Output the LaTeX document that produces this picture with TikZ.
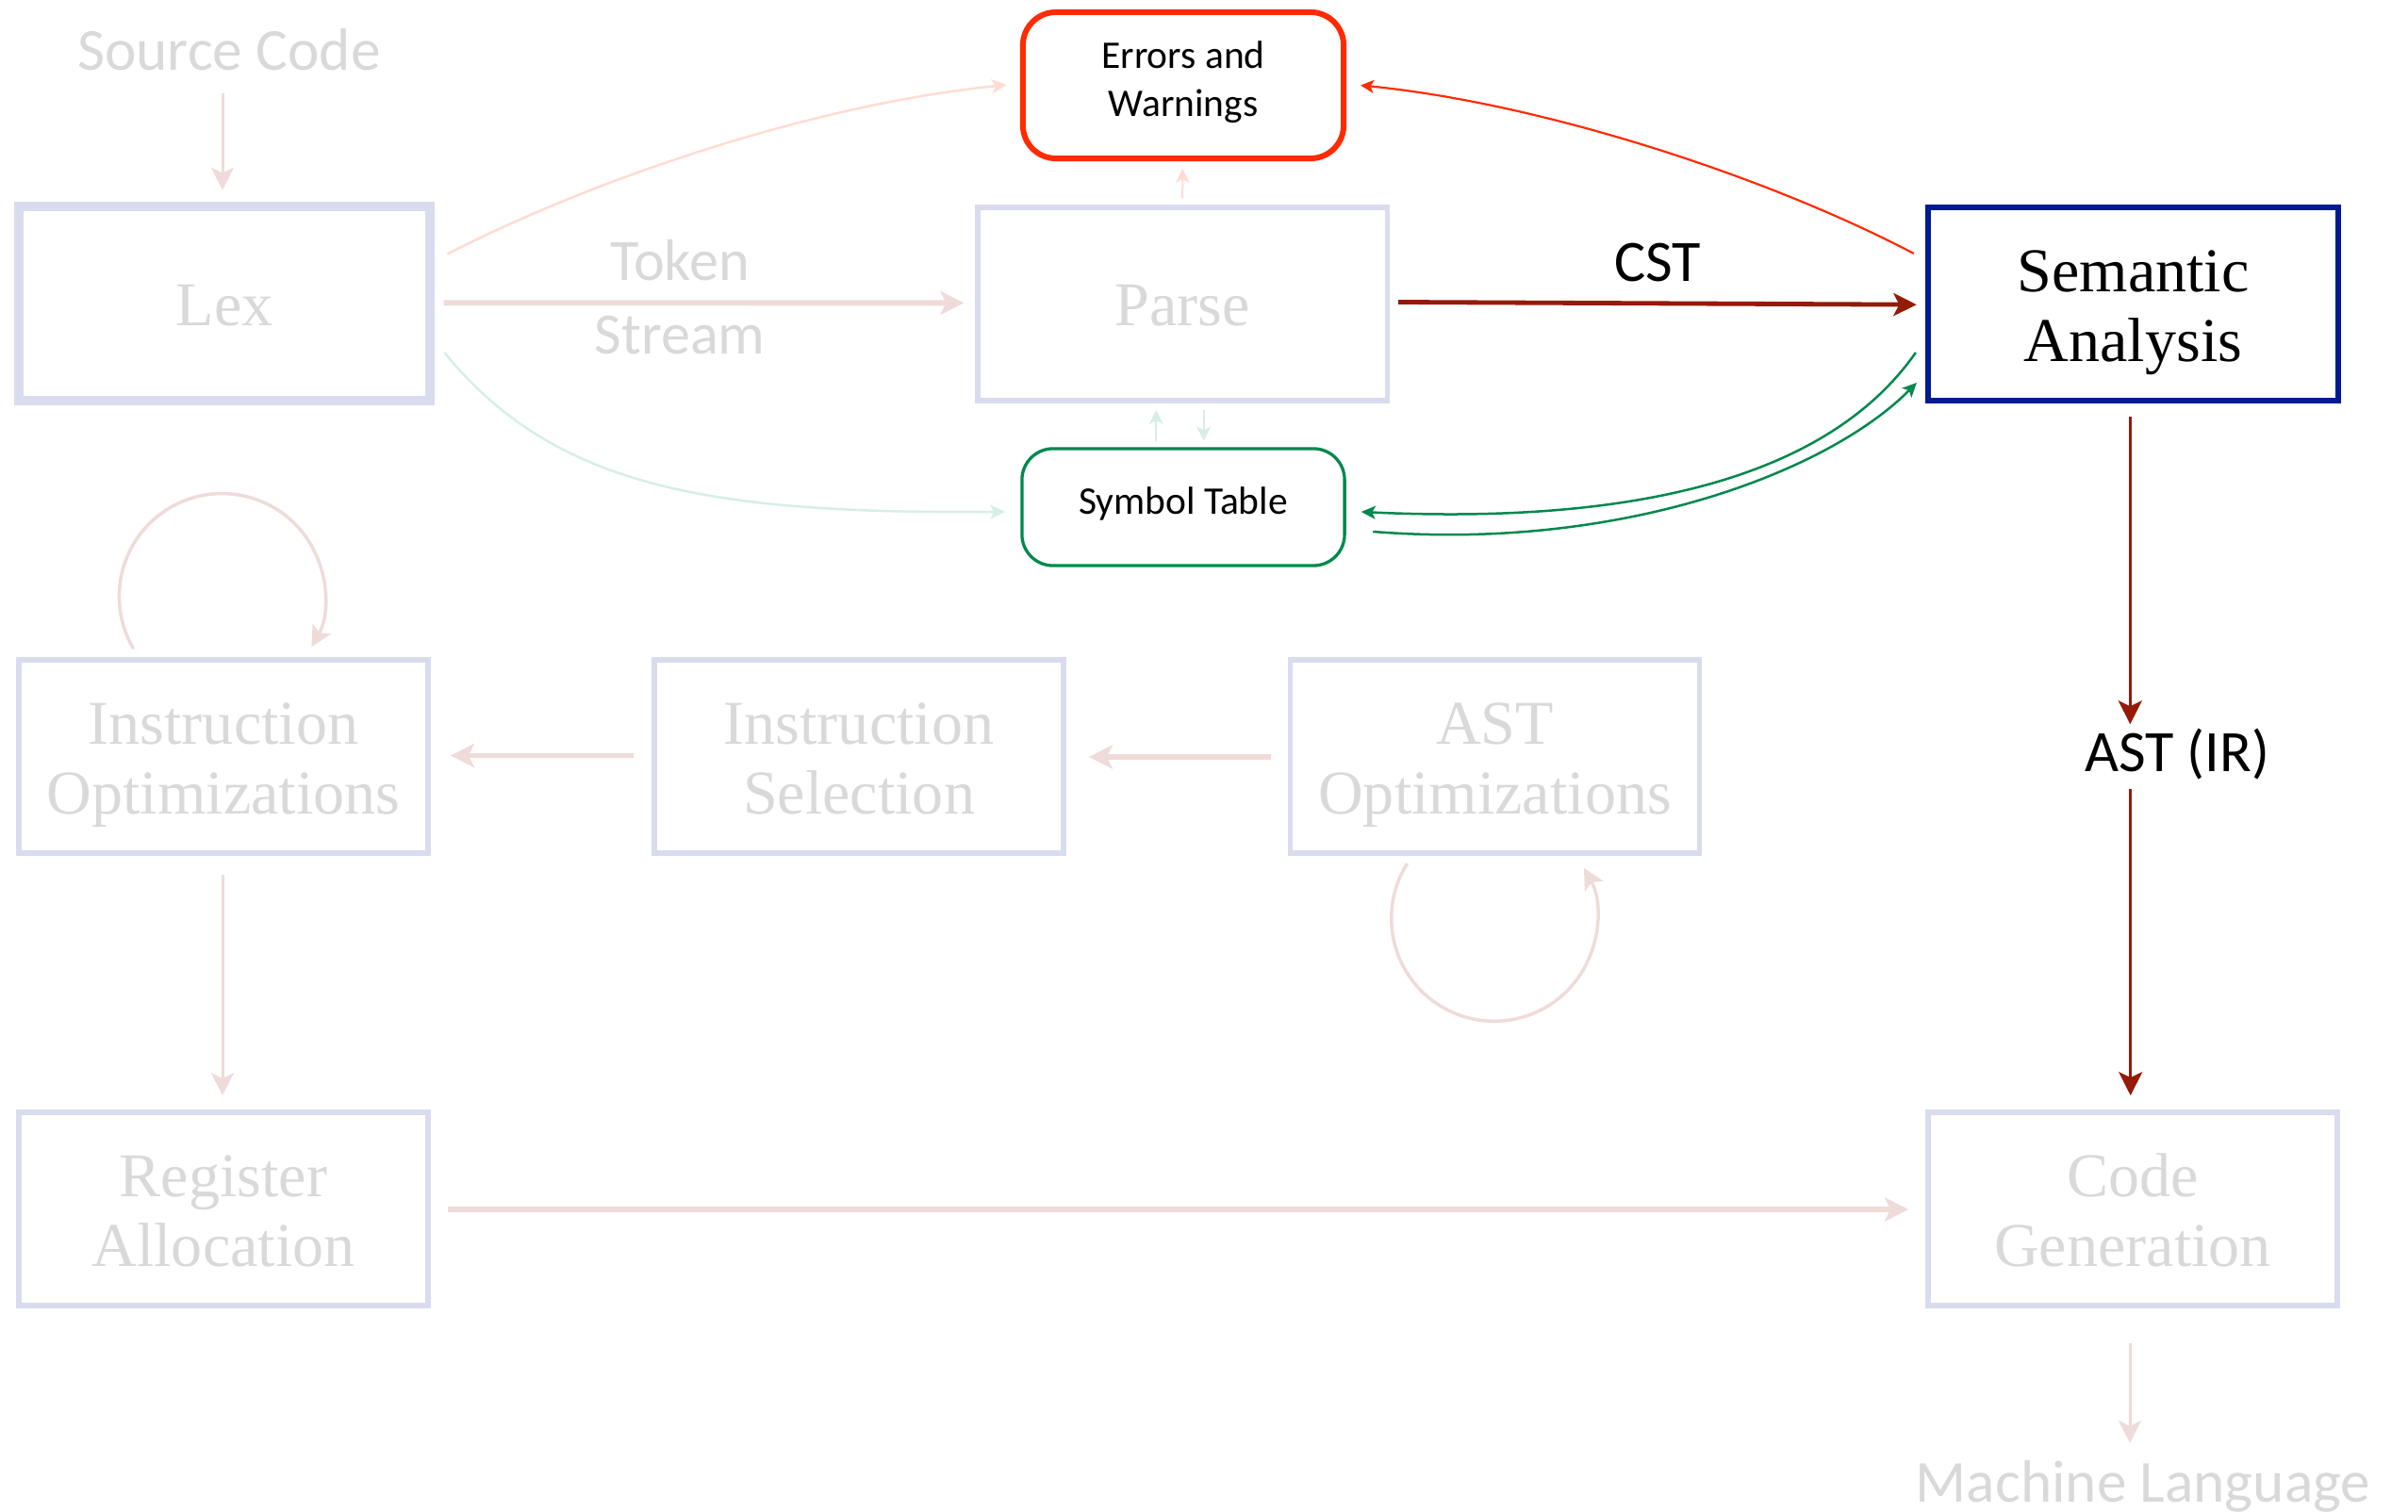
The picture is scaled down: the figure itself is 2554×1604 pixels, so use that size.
\documentclass[tikz,border=0pt]{standalone}
\usepackage{fontspec}
\setmainfont{Liberation Serif}
\newfontfamily\calib{Carlito}
\usetikzlibrary{arrows.meta}
\definecolor{fadebox}{HTML}{D9DCEF}
\definecolor{fadetext}{HTML}{D9D9D9}
\definecolor{fadearrow}{HTML}{EFDBDA}
\definecolor{fadesalmon}{HTML}{FFDCD3}
\definecolor{fademint}{HTML}{D6EFE5}
\definecolor{errred}{HTML}{FF2B00}
\definecolor{symgreen}{HTML}{00884D}
\definecolor{navy}{HTML}{001A91}
\definecolor{darkred}{HTML}{951A08}
\begin{document}
\begin{tikzpicture}[x=0.01cm, y=-0.01cm,
  stage/.style={draw=fadebox, line width=0.055cm, minimum width=4.34cm, minimum height=2.05cm,
    inner sep=0pt, text=fadetext, align=center, font=\fontsize{18.8}{21}\selectfont},
  oneline/.style={text height=15pt, text depth=1.6pt},
  twoline/.style={text height=36pt, text depth=1.3pt},
  sanslabel/.style={inner sep=0pt, font=\calib\fontsize{17.7}{22}\selectfont},
  errbox/.style={draw=errred, line width=0.06cm, rounded corners=0.35cm, minimum width=3.4cm,
    minimum height=1.55cm, inner sep=0pt, align=center, font=\calib\fontsize{11.8}{14.5}\selectfont,
    text height=20pt, text depth=1.34pt},
  symbox/.style={draw=symgreen, line width=0.033cm, rounded corners=0.33cm, minimum width=3.42cm,
    minimum height=1.24cm, inner sep=0pt, font=\calib\fontsize{11.8}{14.5}\selectfont,
    text height=8.4pt, text depth=4pt},
  fthick/.style={draw=fadearrow, line width=0.058cm, -{Stealth[length=0.25cm,width=0.25cm,inset=0.06cm]}},
  fthin/.style={draw=fadearrow, line width=0.03cm, -{Stealth[length=0.24cm,width=0.24cm,inset=0.06cm]}},
  floop/.style={draw=fadearrow, line width=0.035cm, -{Stealth[length=0.22cm,width=0.22cm,inset=0.05cm]}},
  cstarrow/.style={draw=darkred, line width=0.048cm, -{Stealth[length=0.245cm,width=0.24cm,inset=0.06cm]}},
  irarrow/.style={draw=darkred, line width=0.033cm, -{Stealth[length=0.25cm,width=0.25cm,inset=0.06cm]}},
  redcurve/.style={draw=errred, line width=0.022cm, -{Stealth[length=0.14cm,width=0.14cm,inset=0.035cm]}},
  greencurve/.style={draw=symgreen, line width=0.025cm, -{Stealth[length=0.15cm,width=0.14cm,inset=0.035cm]}},
  salmoncurve/.style={draw=fadesalmon, line width=0.025cm, -{Stealth[length=0.16cm,width=0.15cm,inset=0.04cm]}},
  mintcurve/.style={draw=fademint, line width=0.025cm, -{Stealth[length=0.16cm,width=0.15cm,inset=0.04cm]}},
  smallsalmon/.style={draw=fadesalmon, line width=0.02cm, -{Stealth[length=0.15cm,width=0.15cm,inset=0.04cm]}},
  smallmint/.style={draw=fademint, line width=0.02cm, -{Stealth[length=0.15cm,width=0.15cm,inset=0.04cm]}}
]
\useasboundingbox (0,0) rectangle (2554,1604);

% ---- boxes ----
\node[stage, oneline, line width=0.105cm, minimum width=4.355cm, minimum height=2.055cm] (lex) at (238,322) {Lex};
\node[stage, oneline] (parse) at (1254.2,322.4) {Parse};
\node[stage, twoline, draw=navy, text=black, line width=0.06cm] (sem) at (2262.5,322.4) {Semantic\\Analysis};
\node[errbox] (err) at (1255,90.5) {Errors and\\Warnings};
\node[symbox] (sym) at (1255,538) {Symbol Table};
\node[stage, twoline] (io) at (237,802.5) {Instruction\\Optimizations};
\node[stage, twoline] (sel) at (911,802.5) {Instruction\\Selection};
\node[stage, twoline] (ast) at (1585.5,802.5) {AST\\Optimizations};
\node[stage, twoline] (reg) at (237,1282.5) {Register\\Allocation};
\node[stage, twoline] (code) at (2262,1282.5) {Code\\Generation};

% ---- free text ----
\node[sanslabel, text=fadetext, anchor=base, font=\calib\fontsize{18}{22}\selectfont] (src) at (243,75) {Source Code};
\node[sanslabel, text=fadetext, anchor=base, font=\calib\fontsize{18}{22}\selectfont] (mach) at (2273,1593) {Machine Language};
\node[sanslabel, anchor=base] (ir) at (2309,818.3) {AST (IR)};

% ---- faded pipeline arrows ----
\draw[fthin] ([shift={(-7,23)}]src.south) -- ([shift={(-2,-12.25)}]lex.north);
\draw[fthick] ([shift={(9.5,-0.7)}]lex.east) --
  node[pos=0.454, anchor=base, yshift=-0.537cm, sanslabel, text=fadetext, align=center] (tok) {Token\\Stream}
  ([shift={(-12,-1)}]parse.west);
\draw[smallsalmon] ([shift={(0,-6.7)}]parse.north) -- ([shift={(-0.7,8)}]err.south);
\draw[smallmint] ([shift={(-28.7,-6)}]sym.north) -- ([shift={(-27.9,7.3)}]parse.south);
\draw[smallmint] ([shift={(22.5,7.3)}]parse.south) -- ([shift={(21.7,-6.7)}]sym.north);
\draw[salmoncurve] ([shift={(13.25,-52.5)}]lex.east) .. controls (640,185) and (870,110) .. ([shift={(-14,-0.5)}]err.west);
\draw[mintcurve] ([shift={(10.25,52)}]lex.east) .. controls (590,520) and (760,545) .. ([shift={(-16,5)}]sym.west);

% ---- highlighted semantic analysis connections ----
\draw[cstarrow] ([shift={(9,-1.9)}]parse.east) --
  node[midway, anchor=base, yshift=0.2365cm, sanslabel] (cst) {CST}
  ([shift={(-9.5,0.8)}]sem.west);
\draw[redcurve] ([shift={(-12.5,-53.4)}]sem.west) .. controls (1880,190) and (1640,110) .. ([shift={(15,0)}]err.east);
\draw[greencurve] ([shift={(-10.5,51.6)}]sem.west) .. controls (1930,520) and (1700,555) .. ([shift={(16,5)}]sym.east);
\draw[greencurve] ([shift={(28.5,26)}]sym.east) .. controls (1720,585) and (1940,500) .. ([shift={(-9.5,83.6)}]sem.west);
\draw[irarrow] ([shift={(-3.2,13.8)}]sem.south) -- ([shift={(-49.7,-50)}]ir.base);
\draw[irarrow] ([shift={(-49.3,18.4)}]ir.base) -- ([shift={(-2.3,-15)}]code.north);

% ---- back end (faded) ----
\draw[fthick] ([shift={(-17.5,0.5)}]ast.west) -- ([shift={(24,0.5)}]sel.east);
\draw[fthick] ([shift={(-19,-1)}]sel.west) -- ([shift={(21,-1)}]io.east);
\draw[fthin] ([shift={(-1,20)}]io.south) -- ([shift={(-1,-15)}]reg.north);
\draw[fthick] ([shift={(18,0.5)}]reg.east) -- ([shift={(-18,0.5)}]code.west);
\draw[fthin] ([shift={(-3,37)}]code.south) -- ([shift={(-14,-62)}]mach.base);
\draw[floop] ([shift={(-95.4,-9)}]io.north) arc[start angle=210.6, end angle=-29.4, radius=1.09cm];
\draw[floop] ([shift={(-93,8.3)}]ast.south) arc[start angle=147.8, end angle=389.3, radius=1.09cm];
\end{tikzpicture}
\end{document}
